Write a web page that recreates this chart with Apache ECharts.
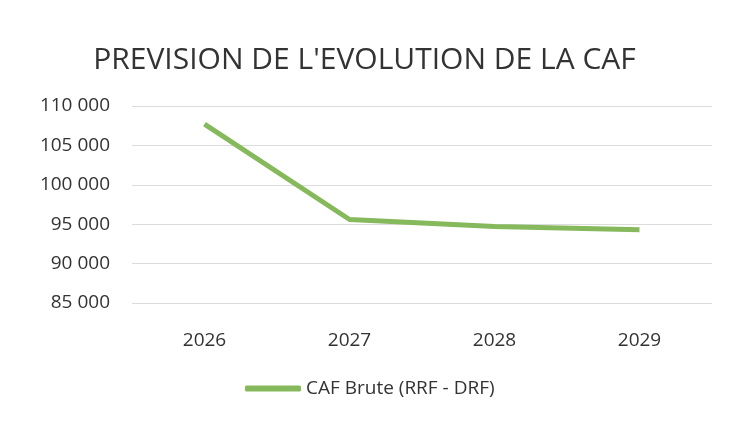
<!DOCTYPE html>
<html>
<head>
<meta charset="utf-8">
<script src="https://cdn.jsdelivr.net/npm/echarts@6/dist/echarts.min.js"></script>
<style>
  html, body { margin: 0; padding: 0; background: #fff; }
  #chart { width: 729px; height: 423px; }
</style>
</head>
<body>
<div id="chart"></div>
<script>
// données
const years = ['2026', '2027', '2028', '2029'];
const cafBrute = [107700, 95600, 94700, 94300];

const chart = echarts.init(document.getElementById('chart'));

const fmt = v => String(v).replace(/\B(?=(\d{3})+(?!\d))/g, ' ');

chart.setOption({
  backgroundColor: '#fff',
  title: {
    text: "PREVISION DE L'EVOLUTION DE LA CAF",
    left: 'center',
    top: 40,
    textStyle: { fontFamily: 'Open Sans', fontWeight: 'normal', fontSize: 30, color: '#333' }
  },
  legend: {
    bottom: 20,
    left: 240,
    itemWidth: 56,
    itemHeight: 6,
    itemGap: 4,
    icon: 'roundRect',
    textStyle: { fontFamily: 'Open Sans', fontSize: 19, color: '#333' },
    data: ['CAF Brute (RRF - DRF)']
  },
  grid: { left: 132, right: 17, top: 106, bottom: 120 },
  xAxis: {
    type: 'category',
    data: years,
    axisLine: { show: false },
    axisTick: { show: false },
    axisLabel: { fontFamily: 'Open Sans', fontSize: 19, color: '#333', margin: 28 }
  },
  yAxis: {
    type: 'value',
    min: 85000,
    max: 110000,
    interval: 5000,
    axisLine: { show: false },
    axisTick: { show: false },
    axisLabel: { fontFamily: 'Open Sans', fontSize: 19, color: '#333', margin: 22, formatter: fmt },
    splitLine: { lineStyle: { color: '#dcdcdc', width: 1 } }
  },
  series: [{
    name: 'CAF Brute (RRF - DRF)',
    type: 'line',
    data: cafBrute,
    symbol: 'none',
    lineStyle: { color: '#86b95b', width: 5 },
    itemStyle: { color: '#86b95b' }
  }]
});
</script>
</body>
</html>
